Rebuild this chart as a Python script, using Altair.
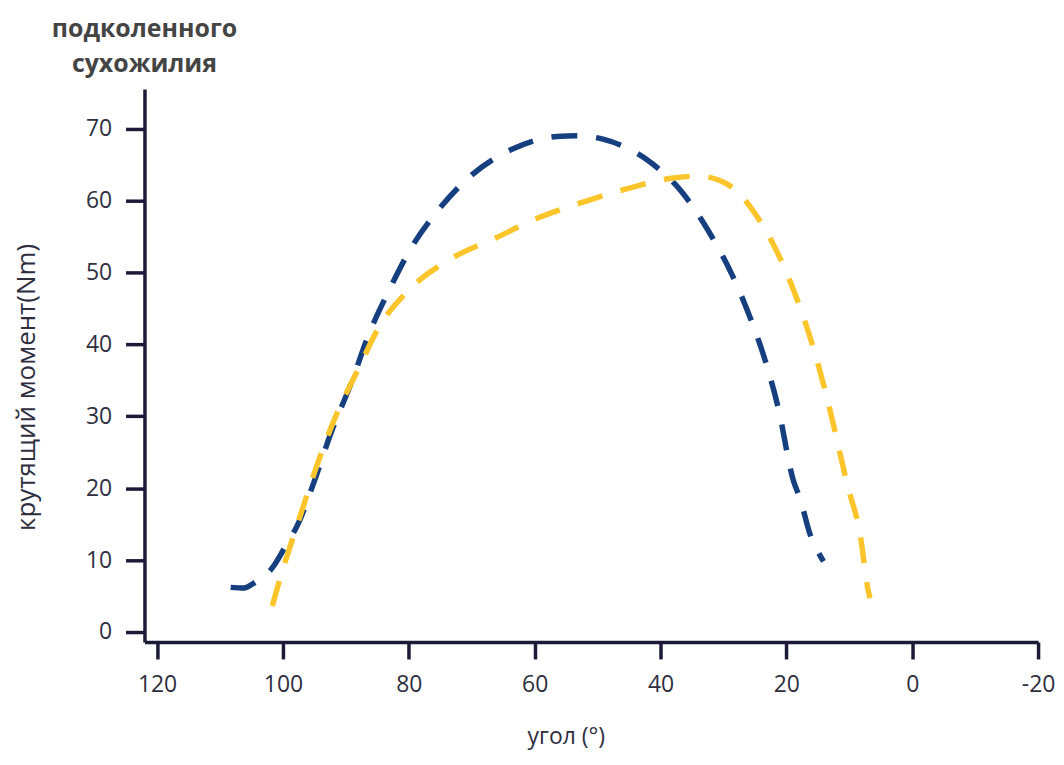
import altair as alt
import pandas as pd

blue_x = [108.3, 106.2, 104.6, 101.7, 99.8, 97.5, 95.0, 92.4, 89.2, 86.3, 83.2, 79.7, 75.2, 70.2,
          63.7, 56.5, 53.0, 49.0, 42.2, 36.7, 32.4, 28.7, 25.7, 23.2, 21.3, 18.9, 17.8, 16.2, 15.0, 14.1]
blue_y = [6.2, 6.1, 6.8, 8.9, 11.6, 15.2, 21.0, 27.6, 34.5, 41.5, 47.4, 53.3, 58.8, 63.4,
          67.1, 68.9, 69.0, 68.5, 65.7, 61.3, 55.8, 49.8, 43.6, 37.3, 31.2, 21.1, 18.5, 13.5, 11.2, 9.8]

yellow_x = [101.7, 99.8, 97.5, 94.3, 91.9, 87.9, 84.8, 79.7, 73.3, 66.2, 59.4, 51.9, 45.1, 38.3,
            34.0, 30.3, 27.5, 24.9, 21.0, 18.1, 15.7, 13.7, 10.2, 8.3, 7.0, 6.7]
yellow_y = [3.6, 9.3, 15.5, 23.9, 29.4, 36.8, 42.3, 47.8, 51.9, 54.8, 57.6, 59.9, 61.7, 63.1,
            63.4, 62.7, 61.0, 58.1, 52.0, 45.8, 39.5, 33.1, 20.1, 13.7, 5.8, 4.7]

x_ticks = [120, 100, 80, 60, 40, 20, 0, -20]
y_ticks = [0, 10, 20, 30, 40, 50, 60, 70]

df = pd.concat([
    pd.DataFrame({"angle": blue_x, "torque": blue_y, "series": "blue", "order": range(len(blue_x))}),
    pd.DataFrame({"angle": yellow_x, "torque": yellow_y, "series": "yellow", "order": range(len(yellow_x))}),
])

AXIS = "#1b1b38"
TXT = "#2e2e3e"
FONT = "Open Sans"

chart = alt.Chart(df).mark_line(
    strokeWidth=5.5, strokeDash=[26, 19], interpolate="monotone", strokeCap="butt"
).encode(
    x=alt.X("angle:Q",
            scale=alt.Scale(domain=[-20, 122], reverse=True, nice=False, zero=False),
            axis=alt.Axis(values=x_ticks, title="угол (°)", grid=False,
                          labelExpr="replace(format(datum.value, 'd'), '−', '-')",
                          domainColor=AXIS, domainWidth=3.5, tickColor=AXIS, tickWidth=3.5,
                          tickSize=17, labelFontSize=23, labelColor=TXT, labelPadding=15,
                          labelFont=FONT, titleFont=FONT, titleFontSize=23, titleFontWeight="normal",
                          titleColor=TXT, titleX=423, titleY=95, titleAlign="center",
                          titleBaseline="middle", labelFlush=False)),
    y=alt.Y("torque:Q",
            scale=alt.Scale(domain=[-1.4, 75.5], nice=False, zero=False),
            axis=alt.Axis(values=y_ticks, title="крутящий момент(Nm)", grid=False,
                          domainColor=AXIS, domainWidth=3.5, tickColor=AXIS, tickWidth=3.5,
                          tickSize=19, labelFontSize=23, labelColor=TXT, labelPadding=14,
                          labelFont=FONT, titleFont=FONT, titleFontSize=26, titleFontWeight="normal",
                          titleColor=TXT, titleX=-118, titleY=299, titleAngle=-90,
                          titleAlign="center", titleBaseline="middle", labelFlush=False)),
    color=alt.Color("series:N",
                    scale=alt.Scale(domain=["blue", "yellow"], range=["#163f80", "#fdc52c"]),
                    legend=None),
    order="order:Q",
    detail="series:N",
).properties(
    width=897,
    height=555,
    title=alt.TitleParams(text=["подколенного", "сухожилия"], anchor="start", align="center",
                          frame="group", fontSize=25, fontWeight="bold", font=FONT,
                          color="#444444", lineHeight=35, offset=12),
    autosize=alt.AutoSizeParams(type="none"),
    padding={"left": 137, "top": 80, "right": 18, "bottom": 110},
).configure_view(stroke=None)

chart.save("out.html", embed_options={"renderer": "svg", "actions": False})
